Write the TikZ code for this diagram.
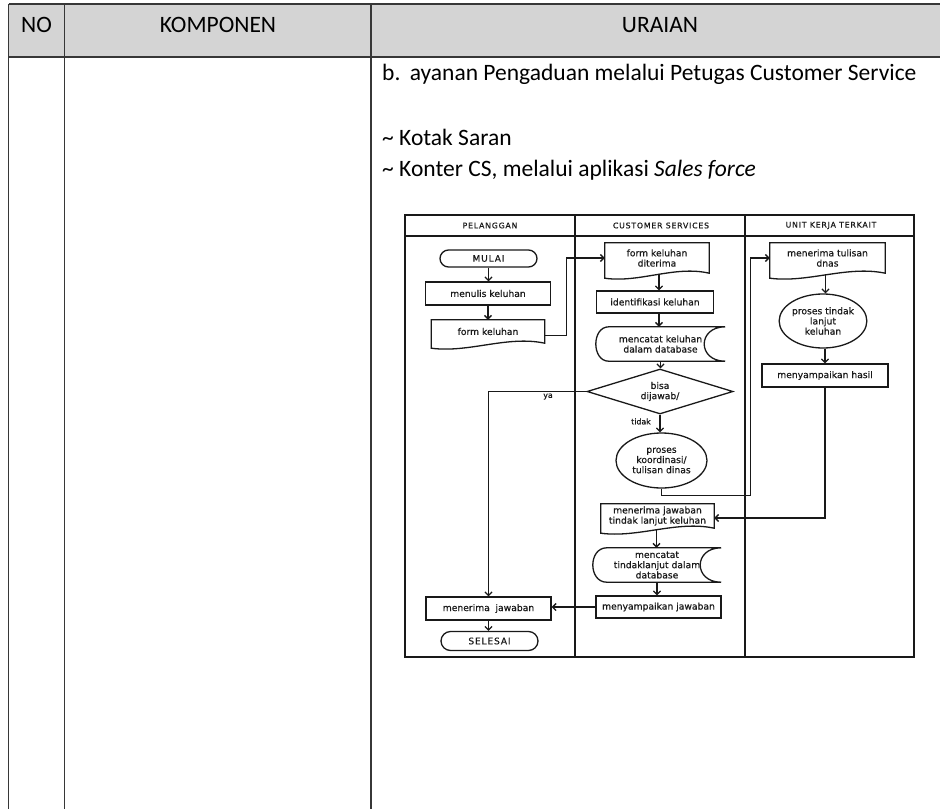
\documentclass[tikz,border=0pt]{standalone}
\usepackage{fontspec}
\setmainfont{Carlito}
\newfontfamily\flowfont[FakeBold=0.5]{DejaVu Sans}
\newfontfamily\flowcaps[FakeBold=0.5,LetterSpace=10]{DejaVu Sans}
\usetikzlibrary{shapes.geometric,shapes.misc,arrows.meta,calc}

\definecolor{headgray}{RGB}{212,212,212}
\definecolor{rulegray}{RGB}{55,55,55}
\definecolor{ink}{RGB}{25,25,25}

% document symbol: straight top and sides, wavy bottom edge
\newcommand\docoutline[1]{%
  \draw[shapeline] (#1.north west) -- (#1.north east) -- (#1.south east)
    .. controls ($(#1.south east)!0.33!(#1.south west)+(0,-8)$)
       and ($(#1.south west)!0.33!(#1.south east)+(0,10)$)
    .. ($(#1.south west)+(0,5)$) -- cycle;}

% stored-data symbol: convex left end, concave right end
\newcommand\dboutline[3]{%
  \draw[shapeline] ($(#1.north west)+(#2,0)$) -- (#1.north east)
    .. controls ($(#1.north east)+(-1.333*#3,0)$) and ($(#1.south east)+(-1.333*#3,0)$)
    .. (#1.south east) -- ($(#1.south west)+(#2,0)$)
    .. controls ($(#1.south west)+(-0.333*#2,0)$) and ($(#1.north west)+(-0.333*#2,0)$)
    .. ($(#1.north west)+(#2,0)$) -- cycle;}

\begin{document}
\begin{tikzpicture}[x=1pt,y=-1pt,
  tabrule/.style={draw=rulegray,line width=1.1pt},
  shapeline/.style={draw=ink,line width=1.3pt},
  flowtxt/.style={font=\flowfont\fontsize{9.2}{10.2}\selectfont, text=ink, align=center},
  capstxt/.style={font=\flowcaps\fontsize{9}{10}\selectfont, text=ink, align=center},
  proc/.style={flowtxt, rectangle, shapeline, inner sep=0pt},
  term/.style={capstxt, rounded rectangle, shapeline, inner sep=0pt},
  docnode/.style={flowtxt, rectangle, inner sep=0pt},
  dbnode/.style={flowtxt, rectangle, inner sep=0pt},
  ellnode/.style={flowtxt, ellipse, shapeline, inner sep=0pt},
  decnode/.style={flowtxt, diamond, aspect=3.2, shapeline, inner sep=0pt},
  arr/.style={draw=ink, line width=1.3pt, -{Straight Barb[length=3.5pt,width=7pt]}},
  lanehead/.style={font=\flowcaps\fontsize{7.8}{9}\selectfont, text=ink, inner sep=0pt},
  edgenote/.style={font=\flowfont\fontsize{7.8}{9}\selectfont, text=ink, inner sep=0pt},
  headtxt/.style={font=\fontsize{23.5}{27}\selectfont, text=black, inner sep=0pt, anchor=base},
  bodytxt/.style={font=\fontsize{23.5}{27}\selectfont, text=black, inner sep=0pt, anchor=base west},
]
\useasboundingbox (0,0) rectangle (940,809);
\fill[white] (0,0) rectangle (940,809);

% ---------- table ----------
\fill[headgray] (8.5,4) rectangle (940,57);
\draw[tabrule] (8.5,4) -- (940,4);
\draw[tabrule, line width=1.4pt] (8.5,57) -- (940,57);
\draw[tabrule] (8.5,4) -- (8.5,809);
\draw[tabrule] (64.5,4) -- (64.5,809);
\draw[tabrule] (371,4) -- (371,809);

\node[headtxt] (hno)   at (36.5,32.5) {NO};
\node[headtxt] (hkomp) at (218,32.5)  {KOMPONEN};
\node[headtxt] (hura)  at (660,32.5)  {URAIAN};

\node[bodytxt] (lineb)  at (382,80)  {b.\hspace{0.4em}ayanan Pengaduan melalui Petugas Customer Service};
\node[bodytxt] (linek1) at (382,145) {\textasciitilde{} Kotak Saran};
\node[bodytxt] (linek2) at (382,176) {\textasciitilde{} Konter CS, melalui aplikasi \textit{Sales force}};

% ---------- swimlane frame ----------
\draw[draw=ink, line width=1.6pt] (405,215) rectangle (914,657);
\draw[draw=ink, line width=1.6pt] (405,236) -- (914,236);
\draw[draw=ink, line width=1.6pt] (575,215) -- (575,657);
\draw[draw=ink, line width=1.6pt] (745,215) -- (745,657);

\node[lanehead] (lane1) at (490,225.5) {PELANGGAN};
\node[lanehead] (lane2) at (661,225.5) {CUSTOMER SERVICES};
\node[lanehead] (lane3) at (831,225.5) {UNIT KERJA TERKAIT};

% ---------- lane 1: pelanggan ----------
\node[term, minimum width=97pt, minimum height=17pt] (mulai) at (488.5,258.5) {MULAI};
\node[proc, minimum width=125pt, minimum height=23pt] (menulis) at (488,293.5) {menulis keluhan};
\node[docnode, minimum width=113pt, minimum height=23pt] (formk) at (488,331.5) {form keluhan};
\docoutline{formk}
\node[proc, minimum width=125pt, minimum height=23pt] (terima) at (488.5,608.5) {menerima\hspace{0.3em} jawaban};
\node[term, minimum width=97pt, minimum height=19pt] (selesai) at (489.5,641) {SELESAI};

% ---------- lane 2: customer services ----------
\node[docnode, minimum width=104pt, minimum height=30pt] (formd) at (657,258) {form keluhan\\diterima};
\docoutline{formd}
\node[proc, minimum width=117pt, minimum height=22pt] (ident) at (655,302) {identifikasi keluhan};
\node[dbnode, minimum width=129pt, minimum height=34pt] (db1) at (660.5,344) {mencatat keluhan\\dalam database};
\dboutline{db1}{13}{21}
\node[decnode, minimum width=146pt, minimum height=45pt] (dec) at (660,391.5) {bisa\\dijawab/};
\node[ellnode, minimum width=91pt, minimum height=55pt] (koord) at (661.5,460.5) {proses\\koordinasi/\\tulisan dinas};
\node[docnode, minimum width=113pt, minimum height=24pt] (menjawab) at (657.5,516) {menerima jawaban\\tindak lanjut keluhan};
\docoutline{menjawab}
\node[dbnode, minimum width=128pt, minimum height=34pt] (db2) at (657,565) {mencatat\\tindaklanjut dalam\\database};
\dboutline{db2}{14}{21}
\node[proc, minimum width=125pt, minimum height=22pt] (jawab) at (658.5,607) {menyampaikan jawaban};

% ---------- lane 3: unit kerja terkait ----------
\node[docnode, minimum width=115pt, minimum height=30pt] (tulisan) at (827.5,258) {menerima tulisan\\dnas};
\docoutline{tulisan}
\node[ellnode, minimum width=84pt, minimum height=54pt] (tindak) at (823,321) {proses tindak\\lanjut\\keluhan};
\node[proc, minimum width=126pt, minimum height=23pt] (hasil) at (825,375.5) {menyampaikan hasil};

% ---------- connectors ----------
\draw[arr] (mulai.south) -- (mulai.south |- menulis.north);
\draw[arr] (menulis.south) -- (menulis.south |- formk.north);
\draw[arr] ($(formk.east)+(0,4)$) -- ++(22,0) |- (formd.west);
\draw[arr] ($(formd.south)+(2,1)$) -- ($(formd.south |- ident.north)+(2,0)$);
\draw[arr] ($(ident.south)+(4,0)$) -- ($(ident.south |- db1.north)+(4,0)$);
\draw[arr] (db1.south) -- (db1.south |- dec.north);
\draw[arr] (dec.west) -- (terima.north |- dec.west) -- (terima.north);
\node[edgenote] (yalbl) at (548,396.5) {ya};
\draw[arr] (dec.south) -- (dec.south |- koord.north);
\node[edgenote] (tidaklbl) at (641,421.5) {tidak};
\draw[arr] (koord.south) -- ++(0,7) -| ([xshift=-19pt]tulisan.west) -- (tulisan.west);
\draw[arr] ($(tulisan.south)+(-2,1)$) -- ($(tulisan.south |- tindak.north)+(-2,0)$);
\draw[arr] ($(tindak.south)+(2,0)$) -- ($(tindak.south |- hasil.north)+(2,0)$);
\draw[arr] (hasil.south) |- ($(menjawab.east)+(0,2)$);
\draw[arr] ($(menjawab.south)+(-1,1)$) -- ($(menjawab.south |- db2.north)+(-1,0)$);
\draw[arr] (db2.south) -- (db2.south |- jawab.north);
\draw[arr] (jawab.west) -- (jawab.west -| terima.east);
\draw[arr] (terima.south) -- (terima.south |- selesai.north);
\end{tikzpicture}
\end{document}
